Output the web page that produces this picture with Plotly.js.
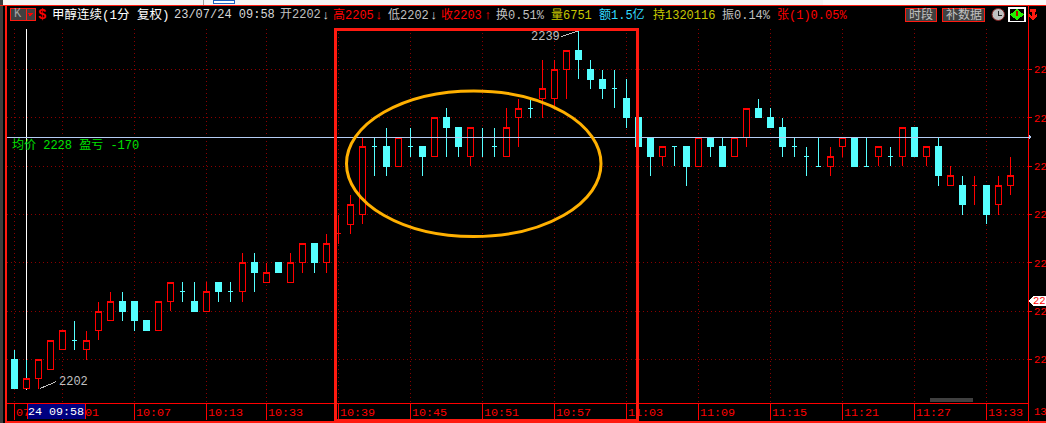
<!DOCTYPE html>
<html><head><meta charset="utf-8">
<script src="https://cdn.plot.ly/plotly-3.0.1.min.js"></script>
<style>html,body{margin:0;padding:0;background:#000;overflow:hidden}#c{width:1046px;height:423px}
.trace.boxes path{shape-rendering:crispEdges !important}</style>
</head><body><div id="c"></div>
<script>
const opens = [2205,2202,2203,2204,2206,2207,2206,2208,2209,2211,2211,2209,2208,2211,2212,2211,2210,2213,2212,2212,2215,2213,2215,2213,2215,2217,2215,2218,2219,2220,2227,2227,2225,2227,2227,2226,2230,2229,2226,2228,2227,2226,2230,2231,2232,2232,2235,2237,2235,2234,2233,2232,2230,2228,2226,2227,2227,2225,2228,2227,2226,2228,2231,2230,2229,2227,2226,2225,2225,2227,2228,2225,2226,2226,2226,2229,2226,2227,2223,2223,2223,2223,2221,2223];
const highs = [2206,2205,2205,2207,2208,2209,2208,2211,2212,2212,2211,2209,2211,2213,2213,2213,2213,2213,2213,2216,2216,2215,2215,2216,2217,2217,2218,2220,2222,2228,2228,2229,2228,2229,2227,2230,2231,2229,2229,2229,2229,2231,2232,2232,2236,2236,2237,2239,2236,2235,2235,2234,2230,2228,2227,2227,2227,2228,2228,2228,2228,2231,2232,2231,2230,2228,2227,2228,2227,2228,2228,2228,2227,2227,2229,2229,2227,2228,2225,2224,2224,2223,2224,2226];
const lows = [2202,2202,2202,2204,2206,2206,2205,2207,2209,2209,2208,2208,2208,2210,2211,2210,2210,2211,2211,2211,2212,2213,2214,2213,2214,2214,2214,2217,2218,2219,2224,2224,2225,2226,2224,2226,2226,2226,2225,2226,2226,2226,2227,2230,2230,2231,2232,2234,2233,2232,2231,2229,2227,2224,2225,2225,2223,2225,2226,2225,2226,2227,2230,2229,2226,2226,2224,2225,2224,2226,2225,2225,2225,2225,2225,2226,2225,2223,2223,2220,2221,2219,2220,2222];
const closes = [2202,2203,2205,2207,2208,2207,2207,2210,2211,2210,2209,2208,2211,2213,2212,2210,2212,2212,2212,2215,2214,2214,2214,2215,2217,2215,2217,2218,2221,2227,2227,2225,2228,2227,2226,2230,2229,2227,2229,2228,2227,2229,2231,2231,2233,2235,2237,2236,2234,2233,2233,2230,2227,2226,2227,2227,2225,2228,2227,2225,2228,2231,2230,2229,2227,2227,2226,2225,2226,2228,2225,2225,2227,2226,2229,2226,2227,2224,2224,2221,2223,2220,2223,2224];
const candleDirs = ["c","m","r","r","r","c","r","r","r","c","c","c","r","r","c","c","r","c","c","r","c","r","c","r","r","c","r","r","r","r","c","c","r","c","c","r","c","c","r","c","c","r","r","c","r","r","r","c","c","c","c","c","c","c","r","c","c","r","c","c","r","r","c","c","c","c","c","c","r","r","c","c","r","c","r","c","r","c","r","c","r","c","r","r"];
const xTickVals = [0,4,10,16,21,27,33,39,45,51,57,63,69,75,81];
const xTickText = ["07\u00a0\u00a0\u00a0","\u00a0\u00a0\u00a001","10:07","10:13","10:33","10:39","10:45","10:51","10:57","11:03","11:09","11:15","11:21","11:27","13:33"];
const yTickVals = [2205,2210,2215,2220,2225,2230,2235];
const yTickText = ["22","22","22","22","22","22","22"];

const RED="#ff0000", CY="#55ffff", BOX="#ff1a10", GREY="#c0c0c0";
const L=7,R=1028,T=29,B=403;
const px=x=>(x-L)/(R-L), py=y=>(B-y)/(B-T);
const xOf=p=>(p-14.5)/12;

const cy={x:[],open:[],high:[],low:[],close:[]}, rd={x:[],open:[],high:[],low:[],close:[]};
const push=(t,i,o,h,l,c)=>{t.x.push(i);t.open.push(o);t.high.push(h);t.low.push(l);t.close.push(c);};
candleDirs.forEach((d,i)=>{
  if(d==="c") push(cy,i,opens[i],highs[i],lows[i],closes[i]);
  else if(d==="r") push(rd,i,opens[i],highs[i],lows[i],closes[i]);
  else { push(cy,i,closes[i],highs[i],closes[i],closes[i]); push(rd,i,opens[i],closes[i],lows[i],closes[i]); }
});
const mk=(t,col,fill)=>Object.assign({type:"candlestick",xaxis:"x",yaxis:"y",whiskerwidth:0,hoverinfo:"skip",showlegend:false,
  increasing:{line:{color:col,width:1.25},fillcolor:fill},decreasing:{line:{color:col,width:1.25},fillcolor:fill}},t);
const data=[mk(cy,CY,CY),mk(rd,RED,"#000000")];

const sh=[];
const rect=(x0,y0,x1,y1,fill,line,lw,layer)=>sh.push({type:"rect",xref:"paper",yref:"paper",x0:px(x0),x1:px(x1),y0:py(y0),y1:py(y1),fillcolor:fill||"rgba(0,0,0,0)",line:{color:line||"rgba(0,0,0,0)",width:lw||0},layer:layer||"above"});
const line=(x0,y0,x1,y1,c,w,layer)=>sh.push({type:"line",xref:"paper",yref:"paper",x0:px(x0),x1:px(x1),y0:py(y0),y1:py(y1),line:{color:c,width:w||1},layer:layer||"above"});
const path=(pts,fill)=>sh.push({type:"path",xref:"paper",yref:"paper",path:"M"+pts.map(p=>px(p[0])+","+py(p[1])).join("L")+"Z",fillcolor:fill,line:{width:0},layer:"above"});

rect(0,0,1046,4.5,"#f4f4f4");
rect(823,0,1046,4.5,"#fafafa");
line(203,0,203,4.5,"#a0a0a0",1);
rect(213.5,0,234,3.5,"#ffffff","#2060c0",1);
rect(0,0,3,423,"#3c3c3c");
line(0,5.5,1046,5.5,BOX,1.5);
line(6,5,6,423,BOX,2);
line(6,421.5,1046,421.5,BOX,2);
line(1028.5,5,1028.5,421,RED,1);
sh.push({type:"line",xref:"x",yref:"paper",x0:1,x1:1,y0:py(29),y1:py(390),line:{color:"#ffffff",width:1},layer:"below"});
sh.push({type:"line",xref:"paper",yref:"y",x0:px(7),x1:px(1030),y0:2228,y1:2228,line:{color:"#b4ccf4",width:1},layer:"above"});
path([[1029,135],[1032,137],[1029,139]],"#b4ccf4");
sh.push({type:"line",xref:"x",yref:"y",x0:xOf(561),x1:47,y0:2238.4,y1:2239,line:{color:GREY,width:1},layer:"above"});
sh.push({type:"line",xref:"x",yref:"y",x0:xOf(40),x1:xOf(56),y0:2202,y1:2202.7,line:{color:GREY,width:1},layer:"above"});
rect(27,404,85,418.5,"#000080");
line(27,403,27,419,RED,1);
line(85,403,85,419,RED,1);
rect(930,398,973,402,"#404040");
sh.push({type:"circle",xref:"paper",yref:"paper",x0:px(346.5),x1:px(601),y0:py(236.5),y1:py(91),line:{color:"#ffb000",width:3},fillcolor:"rgba(0,0,0,0)",layer:"above"});
rect(335,29,637,420,null,BOX,3);
path([[1028,301],[1033,296],[1046,296],[1046,306],[1033,306]],"#ffffff");
rect(10,8,35,20.5,"#404040",BOX,1);
line(26,8,26,20.5,BOX,1);
path([[27.5,13],[33,13],[30.2,16.5]],RED);
rect(905.5,8.5,936.5,21,"#404040",BOX,1);
rect(942.5,8.5,984,21,"#404040",BOX,1);
sh.push({type:"circle",xref:"paper",yref:"paper",x0:px(992),x1:px(1004.5),y0:py(20.5),y1:py(8.5),fillcolor:"#c0c0c0",line:{color:"#802020",width:1},layer:"above"});
line(998,11,998,15,"#202020",1); line(998,15,1002,15,"#202020",1);
rect(1009,8,1025,21.5,"#000000","#ffffff",1.5);
path([[1017,9],[1024,14.5],[1017,20.5],[1010,14.5]],"#22ee00");
line(1017,11,1017,16,"#c00000",1.5);
path([[1030,9],[1036,9],[1036,12],[1034.5,12],[1034.5,16],[1037,14],[1037,17],[1033,20],[1029,17],[1029,14],[1031.5,16],[1031.5,12],[1030,12]],BOX);

const MONO='"Liberation Mono","Noto Sans CJK SC",monospace';
const ann=[];
const txt=(x,y,text,color,size)=>ann.push({xref:"paper",yref:"paper",x:px(x),y:py(y),text,showarrow:false,xanchor:"left",yanchor:"middle",borderpad:0,borderwidth:0,align:"left",font:{family:MONO,size:size||12,color:color}});
txt(14,14.5,"K","#a0a0a0",12);
txt(38,15,"<b>$</b>",RED,14);
txt(52,15,"甲醇连续(1分\u00a0复权)","#ffffff",12.5);
txt(174,15,"23/07/24\u00a009:58","#d8d8d8",12);
txt(280,15,"开2202",GREY,12);
txt(322,15,"↓","#d8d8d8",13);
txt(333,15,"高2205",RED,12);
txt(375,15,"↓",RED,13);
txt(388,15,"低2202",GREY,12);
txt(430,15,"↓","#d8d8d8",13);
txt(441,15,"收2203",RED,12);
txt(484,15,"↑",RED,13);
txt(496,15,"换0.51%",GREY,12);
txt(551,15,"量6751","#c8c800",12);
txt(599,15,"额1.5亿","#33ddff",12);
txt(653,15,"持1320116","#c8c800",12);
txt(722,15,"振0.14%",GREY,12);
txt(777,15,"张(1)0.05%",RED,12);
txt(909,15,"时段",GREY,12);
txt(946,15,"补数据",GREY,12);
txt(12,145,"均价\u00a02228\u00a0盈亏\u00a0-170","#00e000",12);
txt(28,412,"24\u00a009:58","#ffffff",11.7);
txt(1034,412,"13",RED,10.5);
txt(1033,301,"22",RED,10.5);
ann.push({xref:"x",yref:"y",x:xOf(530),y:2238.4,text:"2239",showarrow:false,xanchor:"left",yanchor:"middle",borderpad:0,font:{family:MONO,size:12,color:GREY}});
ann.push({xref:"x",yref:"y",x:xOf(58),y:2202.7,text:"2202",showarrow:false,xanchor:"left",yanchor:"middle",borderpad:0,font:{family:MONO,size:12,color:GREY}});

const layout={width:1046,height:423,autosize:false,paper_bgcolor:"#000",plot_bgcolor:"#000",showlegend:false,
  margin:{l:L,r:1046-R,t:T,b:423-B,pad:0},boxgap:1/3,boxmode:"overlay",
  xaxis:{type:"linear",range:[xOf(L),xOf(R)],tickmode:"array",tickvals:xTickVals,ticktext:xTickText,fixedrange:true,
    rangeslider:{visible:false},showgrid:true,gridcolor:"#8a0000",griddash:"1px,3px",gridwidth:1,zeroline:false,
    showline:true,linecolor:RED,linewidth:1,ticks:"outside",ticklen:16,tickcolor:RED,tickwidth:1,
    tickfont:{family:MONO,size:11.7,color:RED},tickangle:0,ticklabelshift:19,ticklabelstandoff:-18,automargin:false},
  yaxis:{type:"linear",range:[2235-(B-69.5)/9.667,2235+(69.5-T)/9.667],side:"right",tickmode:"array",tickvals:yTickVals,ticktext:yTickText,fixedrange:true,
    showgrid:true,gridcolor:"#8a0000",griddash:"1px,3px",gridwidth:1,zeroline:false,showline:false,ticks:"outside",ticklen:3,tickcolor:RED,tickwidth:1,
    tickfont:{family:MONO,size:10.5,color:RED},automargin:false},
  shapes:sh,annotations:ann};
Plotly.newPlot("c",data,layout,{displayModeBar:false,staticPlot:true}).then(()=>{
  document.querySelectorAll(".shapelayer path").forEach(p=>{
    const d=p.getAttribute("d")||"";
    if(d.indexOf("A")<0) p.style.shapeRendering="crispEdges";
  });
  document.querySelectorAll(".trace.boxes path").forEach(p=>{p.style.shapeRendering="crispEdges";});
});
</script></body></html>
